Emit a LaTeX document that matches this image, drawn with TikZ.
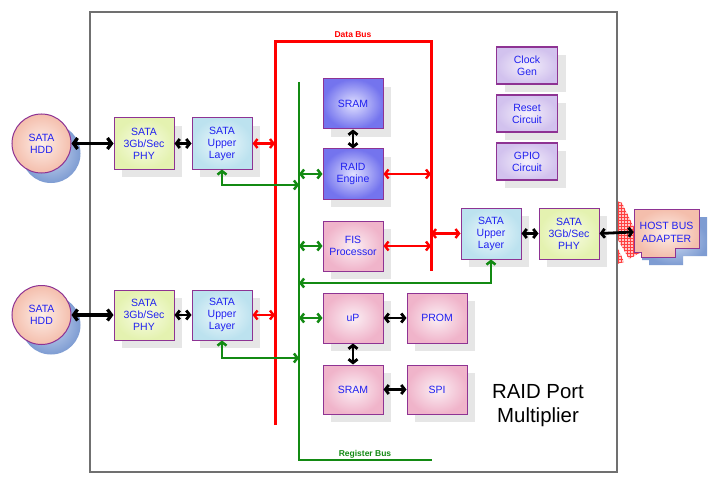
\documentclass[tikz,border=0pt]{standalone}
\usepackage{fontspec}
\setmainfont{Liberation Sans}
\usetikzlibrary{arrows.meta,shadows,patterns,calc}
\definecolor{purp}{HTML}{8E3393}
\definecolor{tblue}{HTML}{2020F0}
\definecolor{framegray}{HTML}{707070}
\definecolor{shgray}{HTML}{E6E6E6}
\definecolor{busred}{HTML}{FF0000}
\definecolor{busgreen}{HTML}{138A13}
\definecolor{blueO}{HTML}{7474EE}
\definecolor{blueI}{HTML}{E0E0FF}
\definecolor{pinkO}{HTML}{F0B4CA}
\definecolor{pinkI}{HTML}{FBEFF4}
\definecolor{ygO}{HTML}{E4F2B0}
\definecolor{ygI}{HTML}{F8FCE6}
\definecolor{lbO}{HTML}{BCE2EF}
\definecolor{lbI}{HTML}{EEF8FB}
\definecolor{lavO}{HTML}{D2C2EE}
\definecolor{lavI}{HTML}{F4F0FB}
\definecolor{peachO}{HTML}{F4BEAC}
\definecolor{peachI}{HTML}{FDEEE8}
\definecolor{bshO}{HTML}{7E9CD2}
\definecolor{bshI}{HTML}{C9D7F0}
\tikzset{
  box/.style={draw=purp, line width=1pt, minimum width=60pt, minimum height=50pt,
    inner sep=0pt, align=center, text=tblue, font=\fontsize{10.5}{12}\selectfont,
    shading=radial,
    drop shadow={shadow xshift=8pt, shadow yshift=-8pt, fill=shgray, opacity=1}},
  bluebox/.style={box, inner color=blueI, outer color=blueO},
  pinkbox/.style={box, inner color=pinkI, outer color=pinkO},
  ygbox/.style={box, inner color=ygI, outer color=ygO},
  lbbox/.style={box, inner color=lbI, outer color=lbO},
  lavbox/.style={box, minimum width=61pt, minimum height=37pt, line width=1.3pt,
    inner color=lavI, outer color=lavO},
  peach/.style={draw=purp, line width=1pt, shading=radial, inner color=peachI, outer color=peachO},
  blueshadow/.style={shading=radial, inner color=bshI, outer color=bshO},
  barrow/.style={draw=black, line width=2.8pt, {Straight Barb[length=3.5pt,width=9pt]}-{Straight Barb[length=3.5pt,width=9pt]}},
  bigarrow/.style={draw=black, line width=3.3pt, {Straight Barb[length=4pt,width=11pt]}-{Straight Barb[length=4pt,width=11pt]}},
  rarrow/.style={draw=busred, line width=2.4pt, {Straight Barb[length=3.5pt,width=9pt]}-{Straight Barb[length=3.5pt,width=9pt]}},
  garrow/.style={draw=busgreen, line width=2.5pt, {Straight Barb[length=3.5pt,width=9pt]}-{Straight Barb[length=3.5pt,width=9pt]}},
  rbus/.style={draw=busred, line width=3pt},
  gbus/.style={draw=busgreen, line width=2.9pt},
  buslabel/.style={font=\fontsize{8.5}{10}\bfseries\selectfont, inner sep=0pt}
}
\begin{document}
\begin{tikzpicture}[x=1pt,y=-1pt]
\useasboundingbox (0,0) rectangle (720,484);
\fill[white] (0,0) rectangle (720,484);

% red hatched shape
\path[preaction={fill=red!22}, pattern=grid, pattern color=red!75] (617,201) -- (622,203) -- (645,250) -- (629,259) -- (617,238) -- cycle;
\path[preaction={fill=red!22}, pattern=grid, pattern color=red!75] (617,246) -- (624,262) -- (617,264) -- cycle;

% frame
\draw[framegray, line width=1.4pt] (90,12) rectangle (617,472);

% buses
\coordinate (dbTL) at (275,42);
\coordinate (dbBL) at (275,425);
\coordinate (dbTR) at (431,42);
\coordinate (dbBR) at (431,271);
\coordinate (rbT) at (299,82);
\coordinate (rbB) at (299,460);
\coordinate (rbE) at (432,460);
\draw[rbus] (dbBL) -- (dbTL) -- (dbTR) -- (dbBR);
\draw[gbus] (rbT) -- (rbB) -- (rbE);
\node[buslabel, text=busred] (dblabel) at (353,35) {Data Bus};
\node[buslabel, text=busgreen] (rblabel) at (365,454) {Register Bus};

% HDDs
\shade[blueshadow] (51,153.5) circle (29.5);
\shade[blueshadow] (51,325) circle (29.5);
\node[circle, peach, minimum size=59pt, inner sep=0pt, align=center, text=tblue,
  font=\fontsize{10.5}{12}\selectfont] (hdd1) at (41.5,143.5) {SATA\\HDD};
\node[circle, peach, minimum size=59pt, inner sep=0pt, align=center, text=tblue,
  font=\fontsize{10.5}{12}\selectfont] (hdd2) at (41.5,315) {SATA\\HDD};

% left side boxes
\node[ygbox, minimum height=51pt] (phy1) at (144,143.5) {SATA\\3Gb/Sec\\PHY};
\node[lbbox, minimum height=51pt] (ul1) at (222,143.5) {SATA\\Upper\\Layer};
\node[ygbox] (phy2) at (144,315) {SATA\\3Gb/Sec\\PHY};
\node[lbbox] (ul2) at (222,315) {SATA\\Upper\\Layer};

% centre column
\node[bluebox] (sram1) at (353,104) {SRAM};
\node[bluebox] (raid) at (353,174) {RAID\\Engine};
\node[pinkbox] (fis) at (353,246) {FIS\\Processor};
\node[pinkbox] (up) at (353,318) {uP};
\node[pinkbox] (prom) at (437,318) {PROM};
\node[pinkbox, minimum height=49pt] (sram2) at (353,389.5) {SRAM};
\node[pinkbox, minimum height=49pt] (spi) at (437,389.5) {SPI};

% misc
\node[lavbox] (clk) at (527,65.5) {Clock\\Gen};
\node[lavbox] (rst) at (527,113.5) {Reset\\Circuit};
\node[lavbox] (gpio) at (527,161.5) {GPIO\\Circuit};

% right side
\node[lbbox, minimum height=51pt] (ul3) at (491,233.5) {SATA\\Upper\\Layer};
\node[ygbox, minimum height=51pt] (phy3) at (569,233.5) {SATA\\3Gb/Sec\\PHY};

% host bus adapter
\shade[blueshadow] (642,217) -- (707,217) -- (707,256) -- (683,256) -- (683,265) -- (649,265) -- (649,260) -- (642,260) -- cycle;
\path[peach] (634,209) -- (699,209) -- (699,248) -- (675,248) -- (675,257) -- (641,257) -- (641,252) -- (634,252) -- cycle;
\node[minimum width=65pt, minimum height=48pt, inner sep=0pt, align=center, text=tblue,
  font=\fontsize{10.5}{13}\selectfont] (hba) at (666.5,232) {HOST BUS\\ADAPTER};

% title
\node[align=center, font=\fontsize{20.4}{24}\selectfont] (title) at (538,406) {RAID Port\\Multiplier};

% connectors
\draw[bigarrow] (hdd1.east) -- (phy1.west);
\draw[bigarrow] (hdd2.east) -- (phy2.west);
\draw[barrow] (phy1.east) -- (ul1.west);
\draw[barrow] (phy2.east) -- (ul2.west);
\draw[rarrow] (ul1.east) -- (ul1.east -| dbTL);
\draw[rarrow] (ul2.east) -- (ul2.east -| dbTL);
\draw[garrow] (ul1.south) |- (rbT |- 0,185);
\draw[garrow] (ul2.south) |- (rbT |- 0,358);
\draw[barrow] (sram1.south) -- (raid.north);
\draw[garrow] (rbT |- raid.west) -- (raid.west);
\draw[rarrow] (raid.east) -- (raid.east -| dbTR);
\draw[garrow] (rbT |- fis.west) -- (fis.west);
\draw[rarrow] (fis.east) -- (fis.east -| dbTR);
\draw[rarrow] (dbTR |- ul3.west) -- (ul3.west);
\draw[garrow] (ul3.south) |- (rbT |- 0,283);
\draw[garrow] (rbT |- up.west) -- (up.west);
\draw[barrow] (up.east) -- (prom.west);
\draw[barrow] (up.south) -- (sram2.north);
\draw[barrow] (sram2.east) -- (spi.west);
\draw[barrow] (ul3.east) -- (phy3.west);
\draw[barrow] (phy3.east) -- (hba.west);
\end{tikzpicture}
\end{document}
